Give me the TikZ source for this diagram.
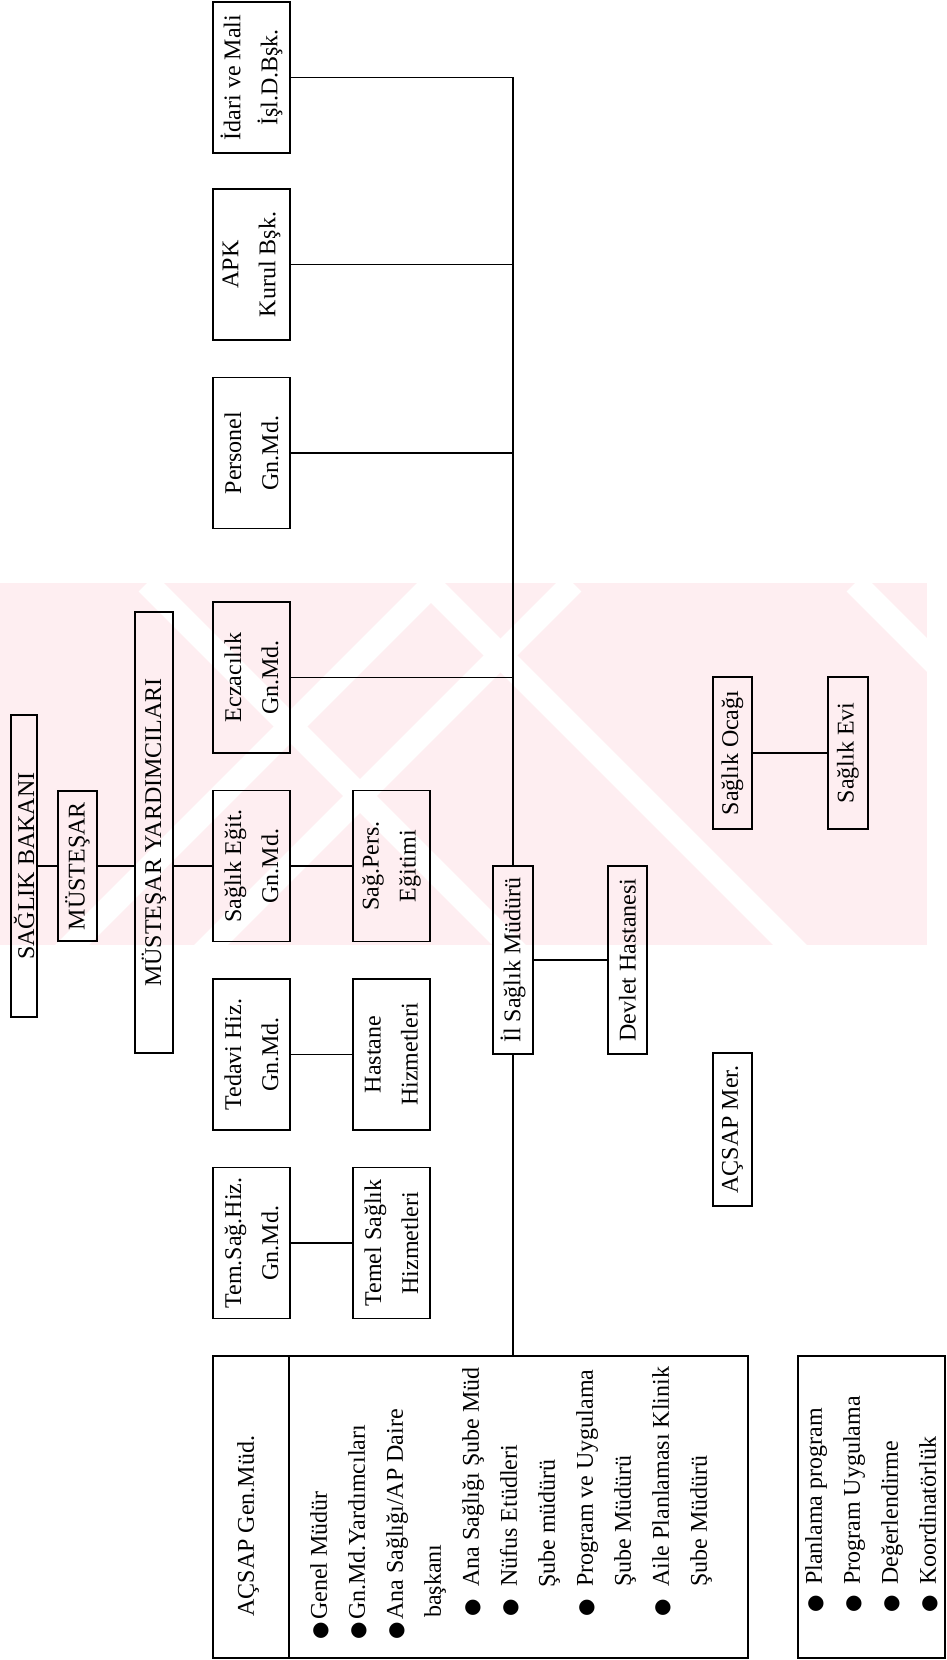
\documentclass[tikz,border=0pt]{standalone}
\usepackage{fontspec}
\setmainfont{Liberation Serif}
\newfontfamily\bltfont{DejaVu Sans}
\newcommand{\blt}{{\bltfont\fontsize{20}{20}\selectfont ●}}
\definecolor{wmpink}{RGB}{254,238,241}

\tikzset{
  unit/.style={draw, line width=1.8pt, inner sep=0pt, rotate=90, align=center,
    font=\fontsize{24}{37}\selectfont},
  gnmd/.style={unit, minimum width=151pt, minimum height=77pt},
  single/.style={unit, minimum height=39pt},
  link/.style={line width=1.6pt},
  frame/.style={draw, line width=1.8pt, inner sep=0pt},
  list/.style={rotate=90, inner sep=0pt, align=left, font=\fontsize{24}{38}\selectfont}
}

\begin{document}
\begin{tikzpicture}[x=1pt,y=-1pt]
\useasboundingbox (0,0) rectangle (947,1660);
% watermark
\begin{scope}
\clip (0,583) rectangle (927,945);
\fill[wmpink] (0,583) rectangle (927,945);
\foreach \x in {434,573}
  \draw[white, line width=24pt] (\x,583) -- ++(-400,400);
\foreach \x in {147,428,855}
  \draw[white, line width=24pt] (\x,583) -- ++(400,400);
\end{scope}

% ministry
\node[unit, minimum width=302pt, minimum height=26pt] (bakan) at (24,866) {SAĞLIK BAKANI};
\node[single, minimum width=150pt] (mus) at (77.5,866) {MÜSTEŞAR};
\node[unit, minimum width=441pt, minimum height=38pt] (yard) at (154,832.5) {MÜSTEŞAR YARDIMCILARI};

% general directorates
\node[gnmd] (temsag) at (251.5,1243) {Tem.Sağ.Hiz.\\Gn.Md.};
\node[gnmd] (tedavi) at (251.5,1054.5) {Tedavi Hiz.\\Gn.Md.};
\node[gnmd] (saegit) at (251.5,866) {Sağlık Eğit.\\Gn.Md.};
\node[gnmd] (eczaci) at (251.5,677.5) {Eczacılık\\Gn.Md.};
\node[gnmd] (person) at (251.5,453) {Personel\\Gn.Md.};
\node[gnmd] (apk) at (251.5,264.5) {APK\\Kurul Bşk.};
\node[gnmd] (idari) at (251.5,77.5) {İdari ve Mali\\İşl.D.Bşk.};

\node[gnmd] (temel) at (391.5,1243) {Temel Sağlık\\Hizmetleri};
\node[gnmd] (hastane) at (391.5,1054.5) {Hastane\\Hizmetleri};
\node[gnmd] (sagpers) at (391.5,866) {Sağ.Pers.\\Eğitimi};

% province
\node[unit, minimum width=188pt, minimum height=40pt] (il) at (513,960) {İl Sağlık Müdürü};
\node[unit, minimum width=188pt, minimum height=39pt] (devlet) at (627.5,960) {Devlet Hastanesi};
\node[single, minimum width=152pt] (ocak) at (732.5,753) {Sağlık Ocağı};
\node[unit, minimum width=152pt, minimum height=40pt] (evi) at (848,753) {Sağlık Evi};
\node[single, minimum width=153pt] (acmer) at (732.5,1129.5) {AÇSAP Mer.};

% AÇSAP boxes
\node[frame, minimum width=535pt, minimum height=302pt] (gen) at (480.5,1507) {};
\draw[line width=1.8pt] ([xshift=77pt]gen.north west) -- ([xshift=77pt]gen.south west);
\node[rotate=90, inner sep=0pt, font=\fontsize{24}{37}\selectfont] (gentitle) at (248,1526) {AÇSAP Gen.Müd.};
\node[list, anchor=north west] (genlist) at (310,1640) {%
\makebox[20pt][l]{\blt}Genel Müdür\\
\makebox[20pt][l]{\blt}Gn.Md.Yardımcıları\\
\makebox[20pt][l]{\blt}Ana Sağlığı/AP Daire\\
\hspace*{22pt}başkanı\\
\hspace*{23pt}\makebox[30pt][l]{\blt}Ana Sağlığı Şube Müd\\
\hspace*{23pt}\makebox[30pt][l]{\blt}Nüfus Etüdleri\\
\hspace*{52pt}Şube müdürü\\
\hspace*{23pt}\makebox[30pt][l]{\blt}Program ve Uygulama\\
\hspace*{53pt}Şube Müdürü\\
\hspace*{23pt}\makebox[30pt][l]{\blt}Aile Planlaması Klinik\\
\hspace*{53pt}Şube Müdürü};

\node[frame, minimum width=147pt, minimum height=302pt] (plan) at (871.5,1507) {};
\node[list, anchor=north west] (planlist) at (805,1613) {%
\makebox[28pt][l]{\blt}Planlama program\\
\makebox[28pt][l]{\blt}Program Uygulama\\
\makebox[28pt][l]{\blt}Değerlendirme\\
\makebox[28pt][l]{\blt}Koordinatörlük};

% connectors
\draw[link] (bakan.south) -- (mus.north);
\draw[link] (mus.south) -- (mus.south -| yard.north);
\draw[link] (saegit.north -| yard.south) -- (saegit.north);
\draw[link] (saegit.south) -- (sagpers.north);
\draw[link] (tedavi.south) -- (hastane.north);
\draw[link] (temsag.south) -- (temel.north);
\draw[link] (idari.south) -| (il.east);
\foreach \n in {apk,person,eczaci}
  \draw[link] (\n.south) -- (\n.south -| il.east);
\draw[link] (il.west) -- (il.west |- gen.north);
\draw[link] (il.south) -- (devlet.north);
\draw[link] (ocak.south) -- (evi.north);
\end{tikzpicture}
\end{document}
